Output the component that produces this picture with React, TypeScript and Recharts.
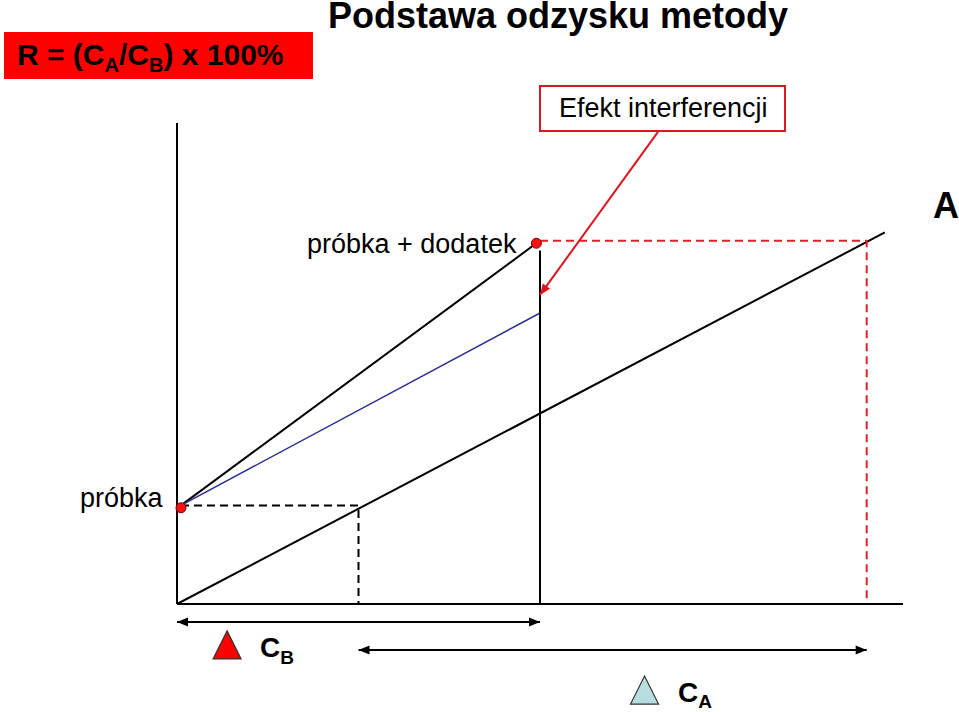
import React from "react";
import { ComposedChart, Line, Scatter, XAxis, YAxis, ReferenceLine, ReferenceDot } from "recharts";

// kalibracja (wzorzec)
const calibX = [0, 19.5];
const calibY = [0, 15.45];
// próbka -> próbka + dodatek
const spikedX = [0.11, 9.9];
const spikedY = [4.1, 15];
// linia z efektem interferencji
const interfX = [0.11, 10];
const interfY = [4.1, 12.1];
// dodatek (pionowa)
const addX = [10, 10];
const addY = [0, 14.7];
// linie pomocnicze
const sampleGuideX = [0.11, 5, 5];
const sampleGuideY = [4.1, 4.1, 0];
const spikeGuideX = [10, 19, 19];
const spikeGuideY = [15.1, 15.1, 0];
// punkty pomiarowe
const pointX = [0.11, 9.9];
const pointY = [4, 15];
// strzałki zakresów
const rangeBX = [0, 10];
const rangeBY = -0.75;
const rangeAX = [5, 19];
const rangeAY = -1.91;
const interfArrowX = [13.25, 10];
const interfArrowY = [19.63, 12.85];
// znaczniki C_B i C_A
const markerBX = 1.38;
const markerBY = -1.7;
const markerAX = 12.88;
const markerAY = -3.58;

const zip = (xs: number[], ys: number[]) => xs.map((x, i) => ({ x, y: ys[i] }));

const FONT = '"Liberation Sans", Arial, sans-serif';

function arrow(color: string, both: boolean) {
  return (p: any) => {
    const { x1, y1, x2, y2 } = p;
    const head = (xa: number, ya: number, xb: number, yb: number) => {
      const dx = xb - xa, dy = yb - ya, len = Math.hypot(dx, dy) || 1;
      const ux = dx / len, uy = dy / len, L = 11, W = 4.5;
      const bx = xb - ux * L, by = yb - uy * L;
      return `${xb},${yb} ${bx - uy * W},${by + ux * W} ${bx + uy * W},${by - ux * W}`;
    };
    return (
      <g>
        <line x1={x1} y1={y1} x2={x2} y2={y2} stroke={color} strokeWidth={2} />
        <polygon points={head(x1, y1, x2, y2)} fill={color} />
        {both && <polygon points={head(x2, y2, x1, y1)} fill={color} />}
      </g>
    );
  };
}

const triangle = (fill: string) => (p: any) => {
  const { cx, cy } = p;
  return <polygon points={`${cx},${cy - 14} ${cx + 14},${cy + 14} ${cx - 14},${cy + 14}`} fill={fill} stroke="#333" strokeWidth={1.2} />;
};

const redDot = (p: any) => <circle cx={p.cx} cy={p.cy} r={5} fill="#ff1010" stroke="#7a0000" strokeWidth={1} />;

export default function App() {
  return (
    <div style={{ position: "absolute", left: 0, top: 0, width: 959, height: 712, background: "#fff" }}>
      <ComposedChart width={959} height={712} margin={{ top: 123, right: 56, bottom: 107, left: 176 }}>
        <XAxis type="number" dataKey="x" domain={[0, 20]} height={1} tick={false} tickLine={false} axisLine={{ stroke: "#000", strokeWidth: 2 }} />
        <YAxis type="number" dataKey="y" domain={[0, 20]} width={1} tick={false} tickLine={false} axisLine={{ stroke: "#000", strokeWidth: 2 }} />
        <Line data={zip(calibX, calibY)} dataKey="y" type="linear" stroke="#000" strokeWidth={2} dot={false} isAnimationActive={false} />
        <Line data={zip(spikedX, spikedY)} dataKey="y" type="linear" stroke="#000" strokeWidth={2} dot={false} isAnimationActive={false} />
        <Line data={zip(interfX, interfY)} dataKey="y" type="linear" stroke="#2b2f8f" strokeWidth={1.5} dot={false} isAnimationActive={false} />
        <Line data={zip(addX, addY)} dataKey="y" type="linear" stroke="#000" strokeWidth={2} dot={false} isAnimationActive={false} />
        <Line data={zip(sampleGuideX, sampleGuideY)} dataKey="y" type="linear" stroke="#000" strokeWidth={2} strokeDasharray="8 5" dot={false} isAnimationActive={false} />
        <Line data={zip(spikeGuideX, spikeGuideY)} dataKey="y" type="linear" stroke="#e0202a" strokeWidth={2} strokeDasharray="8 5" dot={false} isAnimationActive={false} />
        <Scatter data={zip(pointX, pointY)} dataKey="y" shape={redDot} isAnimationActive={false} />
        <ReferenceLine segment={[{ x: rangeBX[0], y: rangeBY }, { x: rangeBX[1], y: rangeBY }]} ifOverflow="visible" shape={arrow("#000", true)} />
        <ReferenceLine segment={[{ x: rangeAX[0], y: rangeAY }, { x: rangeAX[1], y: rangeAY }]} ifOverflow="visible" shape={arrow("#000", true)} />
        <ReferenceLine segment={[{ x: interfArrowX[0], y: interfArrowY[0] }, { x: interfArrowX[1], y: interfArrowY[1] }]} ifOverflow="visible" shape={arrow("#e0141e", false)} />
        <ReferenceDot x={markerBX} y={markerBY} ifOverflow="visible" shape={triangle("#ff0000")} />
        <ReferenceDot x={markerAX} y={markerAY} ifOverflow="visible" shape={triangle("#b7dde0")} />
      </ComposedChart>
      <svg width={959} height={712} style={{ position: "absolute", left: 0, top: 0, pointerEvents: "none" }} fontFamily={FONT}>
        <text x={328} y={28} fontSize={36} fontWeight="bold" fill="#000">Podstawa odzysku metody</text>
        <rect x={4} y={32} width={309} height={47} fill="#ff0000" />
        <text x={17} y={65} fontSize={30} fontWeight="bold" fill="#000">
          R = (C<tspan fontSize={20} dy={7}>A</tspan><tspan dy={-7}>/C</tspan><tspan fontSize={20} dy={7}>B</tspan><tspan dy={-7}>) x 100%</tspan>
        </text>
        <rect x={540} y={86} width={245} height={45} fill="#fff" stroke="#d41a22" strokeWidth={2} />
        <text x={559} y={117} fontSize={27} fill="#000">Efekt interferencji</text>
        <text x={933} y={218} fontSize={36} fontWeight="bold" fill="#000">A</text>
        <text x={307} y={253} fontSize={27} fill="#000">próbka + dodatek</text>
        <text x={80} y={507} fontSize={27} fill="#000">próbka</text>
        <text x={260} y={657} fontSize={28} fontWeight="bold" fill="#000">
          C<tspan fontSize={19} dy={7}>B</tspan>
        </text>
        <text x={678} y={702} fontSize={28} fontWeight="bold" fill="#000">
          C<tspan fontSize={19} dy={6}>A</tspan>
        </text>
      </svg>
    </div>
  );
}
